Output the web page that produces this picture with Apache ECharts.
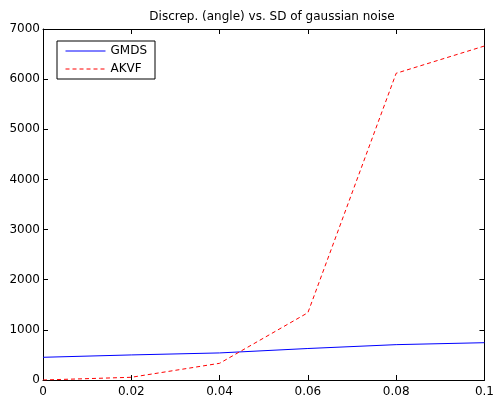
<!DOCTYPE html>
<html><head><meta charset="utf-8">
<script src="https://cdn.jsdelivr.net/npm/echarts@6/dist/echarts.min.js"></script>
<style>html,body{margin:0;padding:0;background:#fff}#c{width:497px;height:403px}</style>
</head><body><div id="c"></div>
<script>
var titleText = 'Discrep. (angle) vs. SD of gaussian noise';
var xValues = [0, 0.02, 0.04, 0.06, 0.08, 0.1];
var xTickLabels = ['0', '0.02', '0.04', '0.06', '0.08', '0.1'];
var gmds = [453, 500, 540, 628, 705, 744];
var akvf = [0, 54, 333, 1342, 6117, 6661];
var seriesNames = ['GMDS', 'AKVF'];

var font = 'DejaVu Sans, sans-serif';
function xl(v){ var i = Math.round(v/0.02); return xTickLabels[i] !== undefined ? xTickLabels[i] : ''; }
function yl(v){ return String(Math.round(v)); }
var axisCommon = {
  axisLine: {show: true, onZero: false, lineStyle: {color: '#000', width: 1}},
  axisTick: {show: true, inside: true, length: 5, lineStyle: {color: '#000'}},
  splitLine: {show: false}
};
var chart = echarts.init(document.getElementById('c'), null, {renderer: 'canvas'});
chart.setOption({
  animation: false,
  backgroundColor: '#fff',
  title: {text: titleText, left: 267, top: 6, textAlign: 'center',
    textStyle: {fontFamily: font, fontSize: 12, fontWeight: 'normal', color: '#000'}},
  grid: {left: 43, right: 8, top: 29, bottom: 23, containLabel: false},
  legend: {
    orient: 'vertical', left: 57, top: 41, data: seriesNames,
    backgroundColor: '#fff', borderColor: '#000', borderWidth: 1,
    padding: [4, 8, 4, 8], itemGap: 6, itemWidth: 40, itemHeight: 14,
    itemStyle: {opacity: 0},
    lineStyle: {width: 1},
    textStyle: {fontFamily: font, fontSize: 12, color: '#000'}
  },
  xAxis: [
    Object.assign({type: 'value', min: 0, max: 0.1, interval: 0.02, position: 'bottom',
      axisLabel: {fontFamily: font, fontSize: 12, color: '#000', margin: 6, formatter: xl}}, axisCommon),
    Object.assign({type: 'value', min: 0, max: 0.1, interval: 0.02, position: 'top',
      axisLabel: {show: false}}, axisCommon)
  ],
  yAxis: [
    Object.assign({type: 'value', min: 0, max: 7000, interval: 1000, position: 'left',
      axisLabel: {fontFamily: font, fontSize: 12, color: '#000', margin: 3, formatter: yl}}, axisCommon),
    Object.assign({type: 'value', min: 0, max: 7000, interval: 1000, position: 'right',
      axisLabel: {show: false}}, axisCommon)
  ],
  series: [
    {name: seriesNames[0], type: 'line', symbol: 'none', color: '#0000ff',
      lineStyle: {color: '#0000ff', width: 1, type: 'solid'},
      data: xValues.map(function(x, i){ return [x, gmds[i]]; })},
    {name: seriesNames[1], type: 'line', symbol: 'none', color: '#ff0000',
      lineStyle: {color: '#ff0000', width: 1, type: [4, 3]},
      data: xValues.map(function(x, i){ return [x, akvf[i]]; })}
  ]
});
</script></body></html>
